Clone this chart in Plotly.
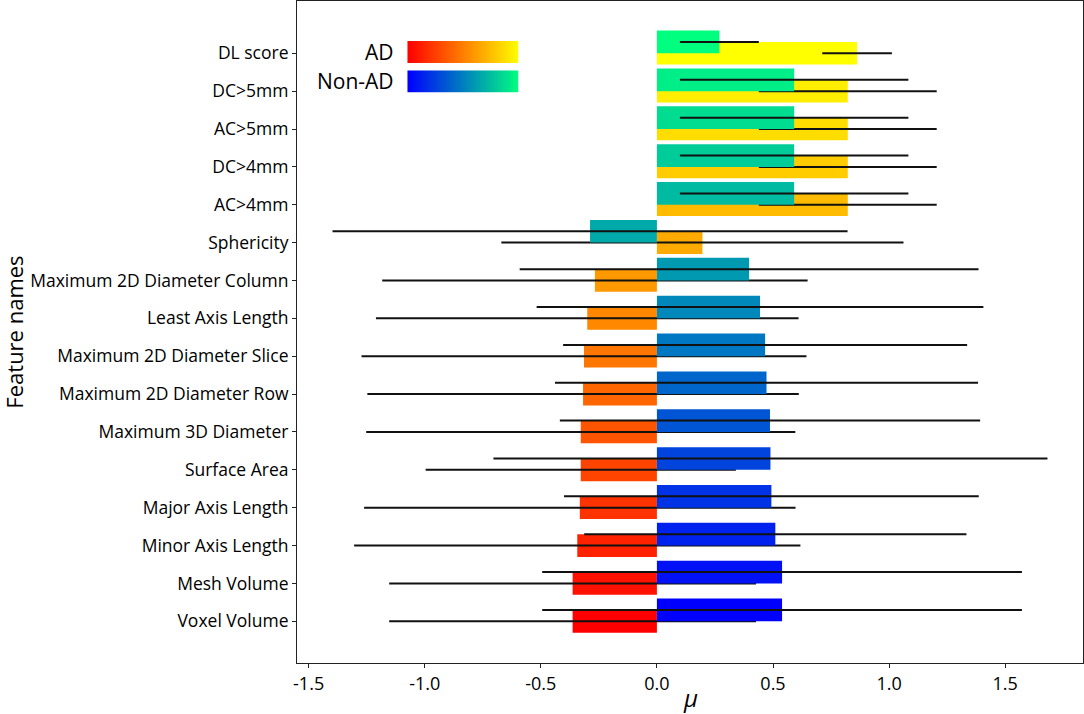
import plotly.graph_objects as go

features = ["DL score", "DC>5mm", "AC>5mm", "DC>4mm", "AC>4mm", "Sphericity",
            "Maximum 2D Diameter Column", "Least Axis Length",
            "Maximum 2D Diameter Slice", "Maximum 2D Diameter Row",
            "Maximum 3D Diameter", "Surface Area", "Major Axis Length",
            "Minor Axis Length", "Mesh Volume", "Voxel Volume"]

ad_mean = [0.862, 0.822, 0.822, 0.822, 0.822, 0.196, -0.267, -0.300,
           -0.314, -0.318, -0.328, -0.328, -0.332, -0.343, -0.363, -0.363]
ad_err = [0.15, 0.383, 0.383, 0.383, 0.383, 0.866, 0.916, 0.91,
          0.958, 0.929, 0.924, 0.668, 0.929, 0.961, 0.79, 0.79]

nonad_mean = [0.269, 0.591, 0.591, 0.591, 0.591, -0.288, 0.397, 0.444,
              0.466, 0.472, 0.487, 0.489, 0.493, 0.510, 0.539, 0.539]
nonad_err = [0.17, 0.492, 0.492, 0.492, 0.492, 1.109, 0.988, 0.962,
             0.87, 0.911, 0.905, 1.193, 0.893, 0.823, 1.033, 1.033]

# colour rank: bottom row = 0, top row = n-1
rank = list(range(len(features) - 1, -1, -1))

autumn = [[0, "rgb(255,0,0)"], [1, "rgb(255,255,0)"]]
winter = [[0, "rgb(0,0,255)"], [1, "rgb(0,255,127)"]]

font = "Open Sans"

fig = go.Figure()

fig.add_trace(go.Bar(
    y=features, x=ad_mean, orientation="h", name="AD",
    width=0.6, offset=-0.3,
    marker=dict(color=rank, colorscale=autumn, cmin=0, cmax=len(features) - 1,
                line=dict(width=0)),
    error_x=dict(type="data", array=ad_err, color="#111111", thickness=2, width=0),
    showlegend=False,
))
fig.add_trace(go.Bar(
    y=features, x=nonad_mean, orientation="h", name="Non-AD",
    width=0.6, offset=0,
    marker=dict(color=rank, colorscale=winter, cmin=0, cmax=len(features) - 1,
                line=dict(width=0)),
    error_x=dict(type="data", array=nonad_err, color="#111111", thickness=2, width=0),
    showlegend=False,
))

# gradient swatches for the legend
fig.add_trace(go.Heatmap(z=[[0, 1]], x=[0, 1], y=[0], colorscale=autumn, zsmooth="best",
                         showscale=False, hoverinfo="skip", xaxis="x2", yaxis="y2"))
fig.add_trace(go.Heatmap(z=[[0, 1]], x=[0, 1], y=[0], colorscale=winter, zsmooth="best",
                         showscale=False, hoverinfo="skip", xaxis="x3", yaxis="y3"))

fig.update_layout(
    width=1084, height=714,
    margin=dict(l=297, r=1, t=1, b=51),
    plot_bgcolor="white", paper_bgcolor="white",
    barmode="overlay",
    font=dict(family=font, size=18, color="black"),
    xaxis=dict(range=[-1.55, 1.835], tickvals=[-1.5, -1.0, -0.5, 0.0, 0.5, 1.0, 1.5],
               ticktext=["-1.5", "-1.0", "-0.5", "0.0", "0.5", "1.0", "1.5"],
               showgrid=False, zeroline=False, showline=True, linecolor="#222222",
               linewidth=1, mirror=True, ticks="outside", ticklen=4, tickcolor="#222222",
               tickfont=dict(size=18)),
    yaxis=dict(categoryorder="array", categoryarray=features[::-1],
               range=[-1.1, 16.38], showgrid=False, zeroline=False, showline=True,
               linecolor="#222222", linewidth=1, mirror=True, ticks="outside",
               ticklen=4, tickcolor="#222222", automargin=False,
               tickfont=dict(size=17.5)),
    xaxis2=dict(domain=[0.1403, 0.2821], anchor="y2", range=[0, 1], visible=False),
    yaxis2=dict(domain=[0.9063, 0.9396], anchor="x2", range=[-0.5, 0.5], visible=False),
    xaxis3=dict(domain=[0.1403, 0.2821], anchor="y3", range=[0, 1], visible=False),
    yaxis3=dict(domain=[0.8615, 0.8953], anchor="x3", range=[-0.5, 0.5], visible=False),
    annotations=[
        dict(text="AD", x=0.126, y=0.923, xref="paper", yref="paper",
             xanchor="right", yanchor="middle", showarrow=False, font=dict(size=21)),
        dict(text="Non-AD", x=0.126, y=0.879, xref="paper", yref="paper",
             xanchor="right", yanchor="middle", showarrow=False, font=dict(size=21)),
        dict(text="<i>μ</i>", x=0.5, y=-0.0515, xref="paper", yref="paper",
             xanchor="center", yanchor="middle", showarrow=False, font=dict(size=24)),
        dict(text="Feature names", x=-0.3605, y=0.5, xref="paper", yref="paper",
             xanchor="center", yanchor="middle", textangle=-90, showarrow=False,
             font=dict(size=22)),
    ],
)

# the page body has a default 8px margin; drop it so the figure fills the window
fig.write_html("out.html", config={"displayModeBar": False},
               post_script="document.body.style.margin='0px';")
